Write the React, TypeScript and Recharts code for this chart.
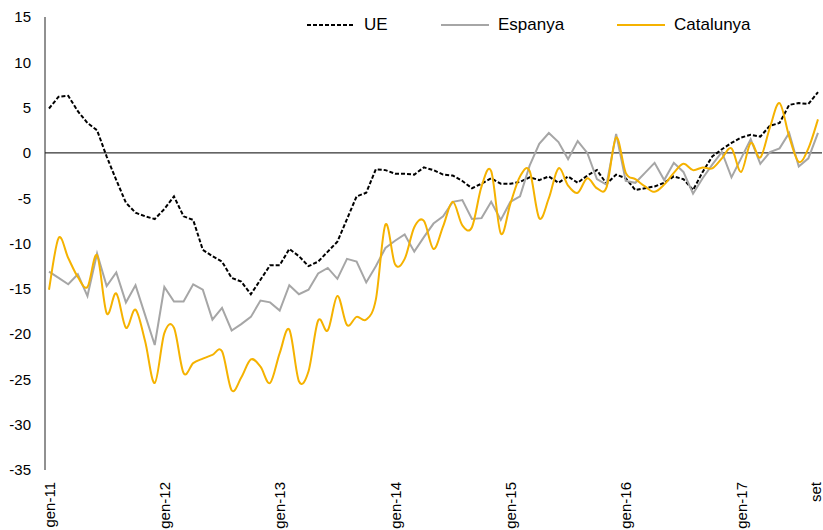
import React from 'react';
import { LineChart, Line, XAxis, YAxis, ReferenceLine, Legend } from 'recharts';

// monthly values, gen-11 .. set-17
const ue = [
  4.9, 6.2, 6.3, 4.6, 3.3, 2.5, -0.4, -3.0, -5.5, -6.6, -7.0, -7.3,
  -6.2, -4.8, -7.0, -7.4, -10.7, -11.4, -12.0, -13.8, -14.2, -15.6, -14.0, -12.4,
  -12.4, -10.6, -11.4, -12.5, -12.0, -10.9, -9.8, -7.3, -4.8, -4.4, -1.8, -1.9,
  -2.3, -2.3, -2.4, -1.6, -1.9, -2.4, -2.5, -3.1, -3.9, -3.4, -2.8, -3.4,
  -3.4, -3.2, -2.7, -3.0, -2.6, -3.3, -2.6, -3.3, -2.5, -1.9, -3.4, -2.4,
  -2.8, -4.1, -3.9, -3.7, -3.3, -2.6, -2.9, -4.1, -2.1, -0.4, 0.4, 1.1,
  1.7, 2.0, 1.8, 3.0, 3.3, 5.3, 5.5, 5.4, 6.7,
];

const espanya = [
  -13.1, -13.8, -14.5, -13.4, -15.8, -11.1, -14.7, -13.2, -16.5, -14.6, -17.9, -21.2,
  -14.8, -16.4, -16.4, -14.5, -15.1, -18.4, -17.1, -19.6, -18.9, -18.1, -16.3, -16.5,
  -17.4, -14.6, -15.6, -15.1, -13.3, -12.7, -13.9, -11.7, -12.0, -14.3, -12.5, -10.5,
  -9.7, -9.0, -10.9, -9.3, -7.8, -7.0, -5.4, -5.2, -7.3, -7.2, -5.4, -7.4,
  -5.4, -4.8, -1.4, 1.0, 2.2, 1.2, -0.7, 1.3, 0.0, -2.9, -3.5, 2.1,
  -3.1, -3.3, -2.2, -1.1, -3.0, -1.1, -2.1, -4.5, -2.8, -1.3, 0.1, -2.7,
  -0.6, 1.5, -1.2, 0.1, 0.5, 2.2, -1.5, -0.6, 2.2,
];

const catalunya = [
  -15.1, -9.4, -11.6, -13.7, -14.8, -11.3, -17.7, -15.5, -19.3, -17.3, -20.8, -25.4,
  -19.9, -19.3, -24.3, -23.2, -22.7, -22.3, -21.9, -26.2, -24.8, -22.8, -23.6, -25.4,
  -22.1, -19.5, -25.2, -24.1, -18.5, -19.6, -15.8, -19.0, -18.1, -18.4, -16.2, -7.9,
  -12.3, -11.7, -8.2, -7.5, -10.6, -8.1, -5.4, -8.0, -8.2, -3.7, -2.0, -8.9,
  -5.6, -2.6, -2.0, -7.2, -5.0, -1.7, -3.6, -4.4, -2.8, -3.9, -3.8, 1.7,
  -2.2, -2.9, -3.7, -4.3, -3.5, -2.2, -1.2, -1.9, -1.6, -1.7, -0.6, 0.5,
  -2.1, 1.1, -0.5, 2.8, 5.5, 1.8, -1.0, 0.5, 3.7,
];

const tickMonths = [0, 12, 24, 36, 48, 60, 72, 80];
const tickLabels = ['gen-11', 'gen-12', 'gen-13', 'gen-14', 'gen-15', 'gen-16', 'gen-17', 'set'];
const yTicks = [-35, -30, -25, -20, -15, -10, -5, 0, 5, 10, 15];

const data = ue.map((v, i) => ({ i, ue: v, espanya: espanya[i], catalunya: catalunya[i] }));

const FONT = '"Liberation Sans", Arial, sans-serif';
const GOLD = '#F5B200';
const GRAY = '#A6A6A6';

// Excel-like smoothed line (uniform Catmull-Rom as cubic beziers)
const smoothCurve = (context: any) => {
  let pts: number[][] = [];
  return {
    areaStart() {},
    areaEnd() {},
    lineStart() {
      pts = [];
    },
    point(x: number, y: number) {
      pts.push([+x, +y]);
    },
    lineEnd() {
      if (!pts.length) return;
      context.moveTo(pts[0][0], pts[0][1]);
      for (let k = 0; k < pts.length - 1; k++) {
        const p0 = pts[k - 1] || pts[k];
        const p1 = pts[k];
        const p2 = pts[k + 1];
        const p3 = pts[k + 2] || p2;
        context.bezierCurveTo(
          p1[0] + (p2[0] - p0[0]) / 6,
          p1[1] + (p2[1] - p0[1]) / 6,
          p2[0] - (p3[0] - p1[0]) / 6,
          p2[1] - (p3[1] - p1[1]) / 6,
          p2[0],
          p2[1]
        );
      }
    },
  };
};

const XTick = (props: any) => {
  const { y, payload } = props;
  const x = Math.min(props.x, 815); // keep the last label inside the frame
  const label = tickLabels[tickMonths.indexOf(payload.value)];
  return (
    <text
      x={x}
      y={y}
      transform={`rotate(-90, ${x}, ${y})`}
      textAnchor="end"
      dominantBaseline="central"
      fontSize={15}
      fontFamily={FONT}
      fill="#000"
    >
      {label}
    </text>
  );
};

const legendItems = [
  { name: 'UE', color: '#000', dash: '4 2', left: 307 },
  { name: 'Espanya', color: GRAY, dash: undefined, left: 441 },
  { name: 'Catalunya', color: GOLD, dash: undefined, left: 617 },
];

const renderLegend = () => (
  <div style={{ position: 'relative', width: 823, height: 20 }}>
    {legendItems.map((it) => (
      <div
        key={it.name}
        style={{ position: 'absolute', left: it.left, top: 0, display: 'flex', alignItems: 'center', height: 20 }}
      >
        <svg width={48} height={6}>
          <line x1={0} y1={3} x2={48} y2={3} stroke={it.color} strokeWidth={2} strokeDasharray={it.dash} />
        </svg>
        <span style={{ marginLeft: 9, fontFamily: FONT, fontSize: 17, color: '#000' }}>{it.name}</span>
      </div>
    ))}
  </div>
);

export default function App() {
  return (
    <div style={{ position: 'absolute', left: 0, top: 0, background: '#fff' }}>
      <LineChart width={823} height={530} data={data} margin={{ top: 17, right: 1, bottom: 5, left: 0 }}>
        <XAxis
          dataKey="i"
          type="number"
          domain={[0, 80]}
          ticks={tickMonths}
          interval={0}
          axisLine={false}
          tickLine={false}
          tickMargin={6}
          height={55}
          padding={{ left: 4, right: 4 }}
          tick={<XTick />}
        />
        <YAxis
          domain={[-35, 15]}
          ticks={yTicks}
          interval={0}
          width={45}
          tickLine={false}
          tickMargin={8}
          axisLine={{ stroke: '#222', strokeWidth: 1 }}
          tick={{ fontSize: 15, fill: '#000', fontFamily: FONT }}
        />
        <ReferenceLine y={0} stroke="#000" strokeWidth={1} />
        <Legend
          verticalAlign="middle"
          align="center"
          layout="horizontal"
          wrapperStyle={{ top: 15, left: 0, width: 823 }}
          content={renderLegend}
        />
        <Line
          dataKey="ue"
          name="UE"
          stroke="#000"
          strokeWidth={2}
          strokeDasharray="4 2"
          dot={false}
          type="linear"
          isAnimationActive={false}
        />
        <Line
          dataKey="espanya"
          name="Espanya"
          stroke={GRAY}
          strokeWidth={2}
          dot={false}
          type="linear"
          isAnimationActive={false}
        />
        <Line
          dataKey="catalunya"
          name="Catalunya"
          stroke={GOLD}
          strokeWidth={2}
          dot={false}
          type={smoothCurve as any}
          isAnimationActive={false}
        />
      </LineChart>
    </div>
  );
}
